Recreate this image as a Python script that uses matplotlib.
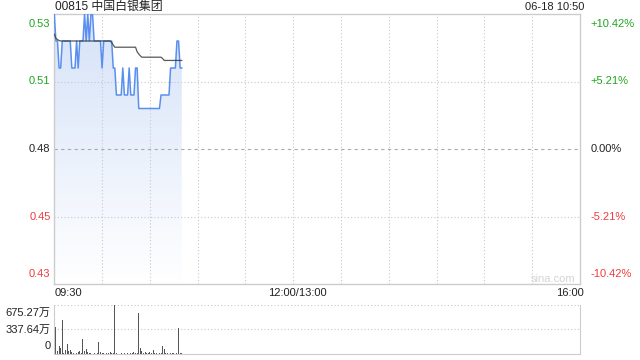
import numpy as np
import matplotlib
matplotlib.use("Agg")
import matplotlib.pyplot as plt
from matplotlib.colors import LinearSegmentedColormap
from matplotlib.patches import PathPatch
from matplotlib.transforms import blended_transform_factory

plt.rcParams['font.family'] = ['Liberation Sans', 'Noto Sans CJK SC', 'DejaVu Sans']

# ---- data (minutes since 09:30) ----
title = "00815 中国白银集团"
stamp = "06-18 10:50"
prev_close = 0.48
price_lo, price_hi = 0.43, 0.53

price = [0.53, 0.52, 0.52, 0.51, 0.51, 0.52, 0.52, 0.52, 0.52, 0.52,   # 0-9
         0.52, 0.51, 0.51, 0.51, 0.52, 0.51, 0.52, 0.52, 0.52, 0.53,   # 10-19
         0.52, 0.53, 0.52, 0.53, 0.53, 0.52, 0.52, 0.52, 0.52, 0.52,   # 20-29
         0.51, 0.52, 0.52, 0.52, 0.52, 0.52, 0.52, 0.51, 0.51, 0.50,   # 30-39
         0.50, 0.50, 0.50, 0.51, 0.50, 0.50, 0.50, 0.51, 0.50, 0.50,   # 40-49
         0.50, 0.51, 0.51, 0.495, 0.495, 0.495, 0.495, 0.495, 0.495, 0.495,  # 50-59
         0.495, 0.495, 0.495, 0.495, 0.495, 0.495, 0.495, 0.50, 0.50, 0.50,  # 60-69
         0.50, 0.50, 0.50, 0.51, 0.51, 0.51, 0.51, 0.52, 0.52, 0.51,   # 70-79
         0.51]                                                          # 80

avg_price = [0.5225, 0.521, 0.5205, 0.5202, 0.5200, 0.52, 0.52, 0.52, 0.52, 0.52,
             0.52, 0.52, 0.52, 0.52, 0.52, 0.52, 0.52, 0.52, 0.52, 0.52,
             0.52, 0.52, 0.52, 0.52, 0.52, 0.52, 0.52, 0.52, 0.52, 0.52,
             0.52, 0.52, 0.52, 0.52, 0.52, 0.52, 0.5195, 0.5185, 0.5177, 0.5177,
             0.5177, 0.5177, 0.5177, 0.5177, 0.5177, 0.5177, 0.5177, 0.5177, 0.5177, 0.5177,
             0.5177, 0.5177, 0.516, 0.5152, 0.5145, 0.514, 0.514, 0.514, 0.514, 0.514,
             0.514, 0.514, 0.514, 0.514, 0.514, 0.514, 0.514, 0.514, 0.5135, 0.5128,
             0.5128, 0.5128, 0.5128, 0.5128, 0.5128, 0.5128, 0.5128, 0.5128, 0.5128, 0.5128,
             0.5128]

# volume in 万 shares
volume = [606, 377, 40, 110, 78, 469, 20, 55, 138, 40,
          55, 32, 15, 18, 10, 32, 45, 8, 211, 45,
          64, 32, 18, 8, 6, 18, 6, 18, 170, 32,
          8, 18, 6, 8, 18, 32, 8, 10, 675, 8,
          18, 6, 9, 6, 18, 8, 9, 6, 18, 8,
          32, 10, 18, 570, 78, 46, 10, 32, 18, 8,
          32, 8, 55, 10, 18, 6, 18, 8, 110, 64,
          8, 18, 6, 18, 8, 18, 6, 10, 354, 18,
          10]
vol_ticks = [0, 337.64, 675.27]
vol_tick_labels = ["0", "337.64万", "675.27万"]

price_ticks = [0.53, 0.505, 0.48, 0.455, 0.43]
price_labels = ["0.53", "0.51", "0.48", "0.45", "0.43"]
pct_labels = ["+10.42%", "+5.21%", "0.00%", "-5.21%", "-10.42%"]
time_labels = ["09:30", "12:00/13:00", "16:00"]

GREEN, RED, DARK = "#1fa51f", "#f03c3c", "#222222"
GRID, BORDER = "#c8c8c8", "#cccccc"
W, H = 640, 360


def fx(px):
    return px / W


def fy(py):
    return 1 - py / H


minutes = np.arange(len(price))
price = np.array(price)
avg_price = np.array(avg_price)

fig = plt.figure(figsize=(6.4, 3.6), dpi=100)
ax = fig.add_axes([fx(54.3), fy(284), fx(580) - fx(54.3), fy(14) - fy(284)])
axv = fig.add_axes([fx(54.3), fy(354), fx(580) - fx(54.3), fy(305) - fy(354)])

# ---- price panel ----
for s in ax.spines.values():
    s.set_color(BORDER)
    s.set_linewidth(1)
ax.set_xticks([])
ax.set_yticks([])

# gradient fill under the price line
poly = ax.fill_between(minutes, price, price_lo, color="none", lw=0)
cmap = LinearSegmentedColormap.from_list("fade", ["#ffffff", "#d5e2f8"])
grad = np.linspace(0, 1, 256).reshape(-1, 1)
im = ax.imshow(grad, extent=[0, minutes[-1], price_lo, price_hi], aspect="auto",
               cmap=cmap, origin="lower", zorder=1)
clip = PathPatch(poly.get_paths()[0], transform=ax.transData, facecolor="none", edgecolor="none")
ax.add_patch(clip)
im.set_clip_path(clip)
ax.set_xlim(0, 330)
ax.set_ylim(price_lo, price_hi)

for t in range(30, 330, 30):
    ax.axvline(t, color=GRID, lw=0.8, ls=(0, (1, 2)), zorder=2)
for v in (0.505, 0.455):
    ax.axhline(v, color=GRID, lw=0.8, ls=(0, (1, 2)), zorder=2)
ax.axhline(prev_close, color="#aaaaaa", lw=0.8, ls=(0, (3, 3)), zorder=2)

ax.plot(minutes, price, color="#5a8ff0", lw=1.1, zorder=3)
ax.plot(minutes, avg_price, color="#3a3a3a", lw=0.9, zorder=4, alpha=0.85)

trans_l = blended_transform_factory(fig.transFigure, ax.transData)
colors = [GREEN, GREEN, DARK, RED, RED]
vas = ["top", "center", "center", "center", "bottom"]
for v, lab, pct, c, va in zip(price_ticks, price_labels, pct_labels, colors, vas):
    off = -0.0017 if va == "top" else (0.0017 if va == "bottom" else 0)
    ax.text(fx(50.5), v + off, lab, transform=trans_l, ha="right", va=va, color=c, fontsize=8)
    ax.text(fx(590.5), v + off, pct, transform=trans_l, ha="left", va=va, color=c, fontsize=8)

fig.text(fx(55), fy(7), title, ha="left", va="center", fontsize=8.6, color=DARK)
fig.text(fx(584), fy(7.5), stamp, ha="right", va="center", fontsize=8, color=DARK)
for xpx, lab, ha in zip([55, 297, 584], time_labels, ["left", "center", "right"]):
    fig.text(fx(xpx), fy(293), lab, ha=ha, va="center", fontsize=8, color=DARK)

fig.text(fx(553), fy(278.5), "sina.com", ha="center", va="center", fontsize=8, color="#d4d4d4")

# ---- volume panel ----
axv.set_xlim(0, 330)
axv.set_ylim(0, vol_ticks[-1])
axv.bar(minutes, volume, width=0.6, color="#555555", zorder=2)
axv.set_xticks([])
axv.set_yticks([])
for side in ("left", "right", "bottom"):
    axv.spines[side].set_color(BORDER)
axv.spines["top"].set_visible(False)
axv.axhline(vol_ticks[1], color=GRID, lw=0.8, ls=(0, (1, 2)), zorder=0)
axv.axhline(vol_ticks[2], color=GRID, lw=0.8, ls=(0, (1, 2)), zorder=0)

trans_v = blended_transform_factory(fig.transFigure, axv.transData)
for v, lab, va in zip(vol_ticks, vol_tick_labels, ["bottom", "center", "top"]):
    off = 40 if va == "bottom" else (-40 if va == "top" else 0)
    axv.text(fx(50.5), v + off, lab, transform=trans_v, ha="right", va=va, fontsize=8, color=DARK)

fig.savefig("out.png", dpi=100)
